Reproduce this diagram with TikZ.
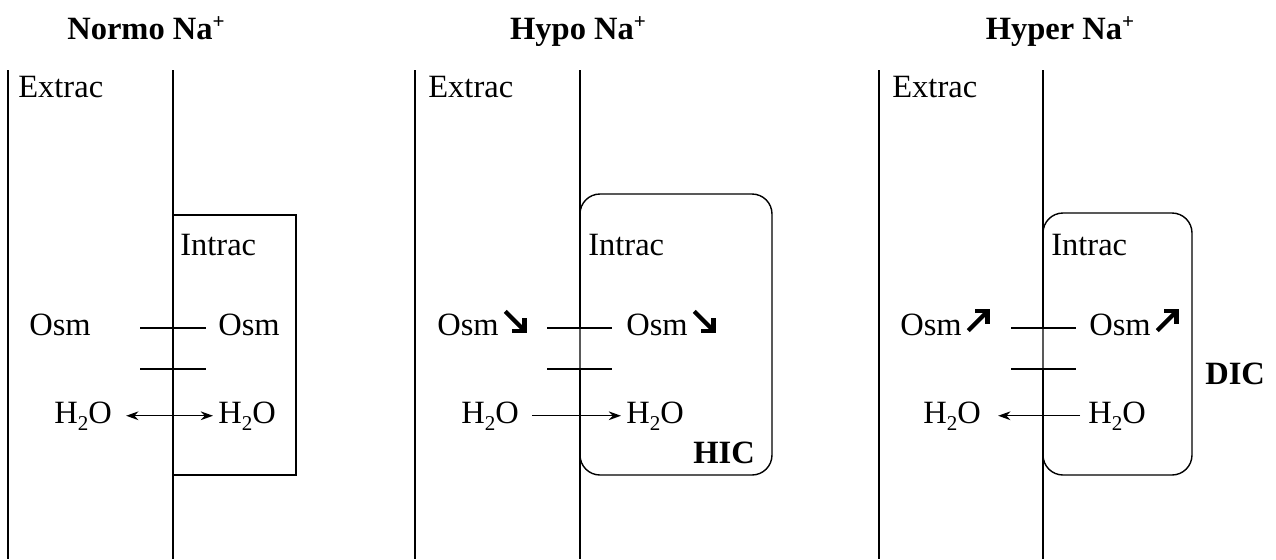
\documentclass[tikz,border=0pt]{standalone}
\usepackage{fontspec}
\setmainfont{Liberation Serif}
\usetikzlibrary{arrows.meta, positioning}
\newcommand{\sub}[1]{\raisebox{-4pt}{\fontsize{12}{12}\selectfont #1}}
\newcommand{\plus}{\raisebox{6pt}{\fontsize{12}{12}\selectfont +}}
% heavy arrows after Osm
\newcommand{\down}{\hspace{2.5pt}\tikz[baseline=-1.5pt, x=1pt, y=1pt, line width=2.4pt]{\draw (0,12)--(10.5,1.5); \draw[line join=miter] (4,1)--(11,1)--(11,8);}}
\newcommand{\up}{\hspace{2.5pt}\tikz[baseline=-1.5pt, x=1pt, y=1pt, line width=2.4pt]{\draw (0,1)--(10.5,11.5); \draw[line join=miter] (4,12)--(11,12)--(11,5);}}

\begin{document}
\begin{tikzpicture}[
            x=0.02cm, y=-0.02cm,
            lbl/.style={font=\fontsize{18.5}{22}\selectfont, anchor=base west, inner sep=0pt},
            ttl/.style={font=\fontsize{18.5}{22}\selectfont\bfseries, anchor=base, inner sep=0pt},
            wall/.style={line width=0.8pt},
            arr/.style={-{Stealth[length=7pt, width=5pt]}, line width=0.8pt}
        ]
            \useasboundingbox (0,0) rectangle (1276,559);

            % Normo
            \node[ttl] (t1) at (146,39) {Normo Na\plus};
            \draw[wall] (8,70) -- (8,559);
            \draw[wall] (173,70) -- (173,328);
            \draw[wall] (173,369) -- (173,559);
            \draw[wall] (140,328) -- (206,328);
            \draw[wall] (140,369) -- (206,369);
            \draw[wall] (173,215) rectangle (296,475);
            \node[lbl] (ex1) at (18,97) {Extrac};
            \node[lbl] (in1) at (180,255) {Intrac};
            \node[lbl] (osmL1) at (29,335) {Osm};
            \node[lbl] (osmR1) at (218,335) {Osm};
            \node[lbl] (wL1) at (54,423) {H\sub{2}O};
            \node[lbl] (wR1) at (218,423) {H\sub{2}O};
            \draw[arr, {Stealth[length=7pt, width=5pt]}-{Stealth[length=7pt, width=5pt]}, shorten <=0.28cm, shorten >=0.1cm] (wL1.east) -- (wR1.west);

            % Hypo
            \node[ttl] (t2) at (578,39) {Hypo Na\plus};
            \draw[wall] (415,70) -- (415,559);
            \draw[wall] (580,70) -- (580,328);
            \draw[wall] (580,369) -- (580,559);
            \draw[wall] (547,328) -- (612,328);
            \draw[wall] (547,369) -- (612,369);
            \draw[wall, rounded corners=0.4cm] (580,194) rectangle (772,475);
            \node[lbl] (ex2) at (428,97) {Extrac};
            \node[lbl] (in2) at (588,255) {Intrac};
            \node[lbl] (osmL2) at (437,335) {Osm\down};
            \node[lbl] (osmR2) at (626,335) {Osm\down};
            \node[lbl] (wL2) at (461,423) {H\sub{2}O};
            \node[lbl] (wR2) at (626,423) {H\sub{2}O};
            \node[lbl, font=\fontsize{18.5}{22}\selectfont\bfseries] (hic) at (693,463) {HIC};
            \draw[arr, shorten <=0.26cm, shorten >=0.1cm] (wL2.east) -- (wR2.west);

            % Hyper
            \node[ttl] (t3) at (1060,39) {Hyper Na\plus};
            \draw[wall] (879,70) -- (879,559);
            \draw[wall] (1043,70) -- (1043,328);
            \draw[wall] (1043,369) -- (1043,559);
            \draw[wall] (1011,328) -- (1076,328);
            \draw[wall] (1011,369) -- (1076,369);
            \draw[wall, rounded corners=0.4cm] (1043,213) rectangle (1192,475);
            \node[lbl] (ex3) at (892,97) {Extrac};
            \node[lbl] (in3) at (1051,255) {Intrac};
            \node[lbl] (osmL3) at (900,335) {Osm\up};
            \node[lbl] (osmR3) at (1089,335) {Osm\up};
            \node[lbl] (wL3) at (923,423) {H\sub{2}O};
            \node[lbl] (wR3) at (1088,423) {H\sub{2}O};
            \node[lbl, font=\fontsize{18.5}{22}\selectfont\bfseries] (dic) at (1205,384) {DIC};
            \draw[arr, shorten <=0.16cm, shorten >=0.34cm] (wR3.west) -- (wL3.east);
        \end{tikzpicture}
\end{document}
